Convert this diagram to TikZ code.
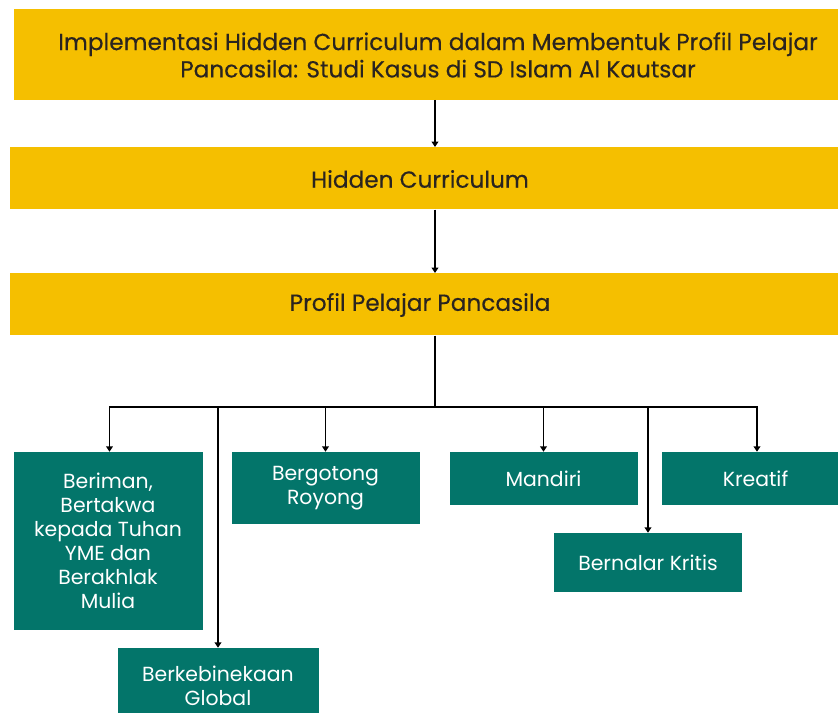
\documentclass[tikz,border=0pt]{standalone}
\usepackage{fontspec}
\setmainfont{Poppins}
\newfontfamily\ymed{Poppins}[FakeBold=0.35]
\usetikzlibrary{arrows.meta}
\definecolor{ybox}{HTML}{F5BF00}
\definecolor{gbox}{HTML}{03756A}
\definecolor{ytext}{HTML}{2A2420}
\tikzset{
  ybar/.style={fill=ybox, draw=none, inner sep=0pt, anchor=north west},
  ylabel/.style={text=ytext, font=\ymed\fontsize{17.4}{20.5}\selectfont, align=center, inner sep=0pt},
  gbar/.style={fill=gbox, draw=none, inner sep=0pt, text=white, align=center,
    font=\fontsize{15.3}{18}\selectfont},
  conn/.style={draw=black, line width=1.1pt},
  arr/.style={conn, -{Triangle[width=5pt,length=4pt]}},
}
\begin{document}
\begin{tikzpicture}[x=0.75pt,y=-0.75pt]
\useasboundingbox (0,0) rectangle (838,713);
\fill[white] (0,0) rectangle (838,713);
% top bars
\node[ybar, minimum width=652.5pt, minimum height=68.25pt] (title) at (14,9) {};
\node[ylabel] (titlet) at (438,55) {Implementasi Hidden Curriculum dalam Membentuk Profil Pelajar\\Pancasila: Studi Kasus di SD Islam Al Kautsar};
\node[ybar, minimum width=652.5pt, minimum height=46.5pt] (hc) at (10,147) {};
\node[ylabel] (hct) at (420,179) {Hidden Curriculum};
\node[ybar, minimum width=652.5pt, minimum height=46.5pt] (ppp) at (10,273) {};
\node[ylabel] (pppt) at (420,305) {Profil Pelajar Pancasila};
% green boxes
\node[gbar, minimum width=141.75pt, minimum height=133.5pt] (ber) at (108,541) {Beriman,\\Bertakwa\\kepada Tuhan\\YME dan\\Berakhlak\\Mulia};
\node[gbar, minimum width=150.75pt, minimum height=57pt] (keb) at (218,686) {Berkebinekaan\\Global};
\node[gbar, minimum width=141pt, minimum height=54pt] (got) at (325.5,488) {Bergotong\\Royong};
\node[gbar, minimum width=141pt, minimum height=39.75pt] (man) at (543.5,478.5) {Mandiri};
\node[gbar, minimum width=141pt, minimum height=44.25pt] (nal) at (648,562.5) {Bernalar Kritis};
\node[gbar, minimum width=141pt, minimum height=39.75pt] (kre) at (755.5,478.5) {Kreatif};
% connectors
\coordinate (a1) at (435,100);
\coordinate (bus) at (435,407);
\draw[arr] (a1) -- (hc.north -| a1);
\draw[arr] (hc.south -| a1) -- (ppp.north -| a1);
\draw[conn] (ppp.south -| a1) -- (bus);
\draw[conn] (110,407) -- (757,407);
\draw[arr] (bus) -| ([xshift=1.1pt]ber.north);
\draw[arr] (bus) -| (keb.north);
\draw[arr] (bus) -| (got.north);
\draw[arr] (bus) -| (man.north);
\draw[arr] (bus) -| (nal.north);
\draw[arr] (bus) -| ([xshift=1.1pt]kre.north);
\end{tikzpicture}
\end{document}
